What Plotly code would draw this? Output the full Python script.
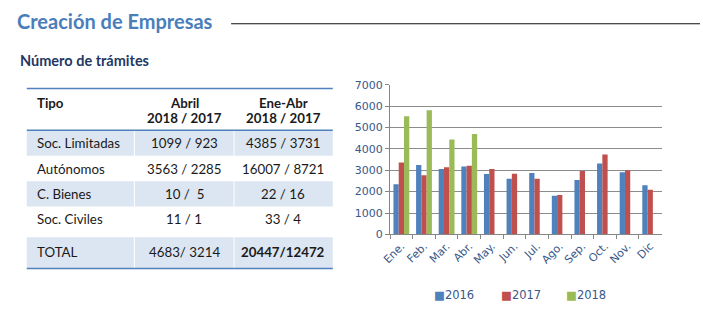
import plotly.graph_objects as go

W, H = 703, 323

months = ["Ene.", "Feb.", "Mar.", "Abr.", "May.", "Jun.", "Jul.", "Ago.", "Sep.", "Oct.", "Nov.", "Dic"]
v2016 = [2350, 3240, 3060, 3170, 2830, 2600, 2870, 1810, 2540, 3320, 2910, 2300]
v2017 = [3360, 2770, 3140, 3210, 3060, 2840, 2600, 1840, 2960, 3740, 3000, 2090]
v2018 = [5530, 5800, 4440, 4690, None, None, None, None, None, None, None, None]
years = ["2016", "2017", "2018"]
colors = ["#4F81BD", "#C0504D", "#9BBB59"]

tbl_header = [["Tipo"], ["Abril", "2018 / 2017"], ["Ene-Abr", "2018 / 2017"]]
tbl_tipo = ["Soc. Limitadas", "Autónomos", "C. Bienes", "Soc. Civiles", "TOTAL"]
tbl_abril = ["1099 / 923", "3563 / 2285", "10 /  5", "11 / 1", "4683/ 3214"]
tbl_eneabr = ["4385 / 3731", "16007 / 8721", "22 / 16", "33 / 4", "<b>20447/12472</b>"]


def px(x):
    return x / W


def py(y):
    return 1 - y / H


fig = go.Figure()
for name, vals, col in zip(years, [v2016, v2017, v2018], colors):
    fig.add_trace(go.Bar(x=months, y=vals, name=name, marker=dict(color=col, line=dict(width=0)),
                         showlegend=False))

tick_col = "#3A5789"
fig.update_layout(
    width=W, height=H, margin=dict(l=0, r=0, t=0, b=0),
    paper_bgcolor="white", plot_bgcolor="white",
    barmode="group", bargap=0.3, bargroupgap=0,
    font=dict(family="DejaVu Sans", size=11, color=tick_col),
    xaxis=dict(domain=[px(386), px(661)], tickson="boundaries", ticks="outside", ticklen=4,
               tickcolor="#868686", showline=True, linecolor="#868686", linewidth=1,
               tickangle=-45, showgrid=False,
               tickfont=dict(family="DejaVu Sans", size=11, color=tick_col)),
    yaxis=dict(domain=[py(238), py(82)], range=[0, 7000], dtick=1000, ticks="outside", ticklen=4,
               tickcolor="#868686", showline=True, linecolor="#868686", linewidth=1,
               showgrid=True, gridcolor="#8C8C8C", gridwidth=1, zeroline=False,
               tickfont=dict(family="DejaVu Sans", size=11, color=tick_col)),
)

shapes = []
anns = []

# Title and rule
anns.append(dict(x=px(6), y=py(16), xref="paper", yref="paper", xanchor="left", yanchor="middle",
                 text="<b>Creación de Empresas</b>", showarrow=False,
                 font=dict(family="Lato", size=20, color="#4A7EBB")))
shapes.append(dict(type="line", xref="paper", yref="paper", x0=px(225), x1=px(700), y0=py(18.5), y1=py(18.5),
                   line=dict(color="#111111", width=1.2)))
anns.append(dict(x=px(9), y=py(57), xref="paper", yref="paper", xanchor="left", yanchor="middle",
                 text="<b>Número de trámites</b>", showarrow=False,
                 font=dict(family="Lato", size=14.5, color="#1F3864")))

# Table
tx0, tx1 = 18, 328
cols = [(tx0, 127), (127, 228), (228, tx1)]
row_bounds = [(130, 156), (156, 182.5), (182.5, 209), (209, 241), (241, 273)]
shaded = [True, False, True, False, True]
for (y0, y1), sh in zip(row_bounds, shaded):
    if sh:
        for i, (c0, c1) in enumerate(cols):
            a = c0 + (0.5 if i > 0 else 0)
            b = c1 - (0.5 if i < 2 else 0)
            shapes.append(dict(type="rect", xref="paper", yref="paper", x0=px(a), x1=px(b),
                               y0=py(y0), y1=py(y1), fillcolor="#DCE6F2", line=dict(width=0), layer="below"))
for yy in [86, 129.5, 273.5]:
    shapes.append(dict(type="line", xref="paper", yref="paper", x0=px(tx0), x1=px(tx1), y0=py(yy), y1=py(yy),
                       line=dict(color="#4F81BD", width=1.6)))

tfont = dict(family="Lato", size=13.3, color="#1A1A1A")
# header
anns.append(dict(x=px(26), y=py(101), xref="paper", yref="paper", xanchor="left", yanchor="middle",
                 text="<b>Tipo</b>", showarrow=False, font=tfont))
for ci, hdr in [(1, tbl_header[1]), (2, tbl_header[2])]:
    cx = (cols[ci][0] + cols[ci][1]) / 2
    for k, line in enumerate(hdr):
        anns.append(dict(x=px(cx), y=py(101 + 15.5 * k), xref="paper", yref="paper", xanchor="center",
                         yanchor="middle", text="<b>%s</b>" % line, showarrow=False, font=tfont))
# body
row_y = [143, 169.5, 196, 222, 256]
for i in range(len(tbl_tipo)):
    anns.append(dict(x=px(26), y=py(row_y[i]), xref="paper", yref="paper", xanchor="left", yanchor="middle",
                     text=tbl_tipo[i], showarrow=False, font=tfont))
    for ci, arr in [(1, tbl_abril), (2, tbl_eneabr)]:
        cx = (cols[ci][0] + cols[ci][1]) / 2
        anns.append(dict(x=px(cx), y=py(row_y[i]), xref="paper", yref="paper", xanchor="center",
                         yanchor="middle", text=arr[i], showarrow=False, font=tfont))

# Legend (as colored squares + text)
leg_x = [428, 496, 562]
for name, col, lx in zip(years, colors, leg_x):
    anns.append(dict(x=px(lx), y=py(301), xref="paper", yref="paper", xanchor="left", yanchor="middle",
                     text='<span style="color:%s">■</span>%s' % (col, name), showarrow=False,
                     font=dict(family="DejaVu Sans", size=11.5, color=tick_col)))

fig.update_layout(shapes=shapes, annotations=anns)
fig.write_html("out.html")
